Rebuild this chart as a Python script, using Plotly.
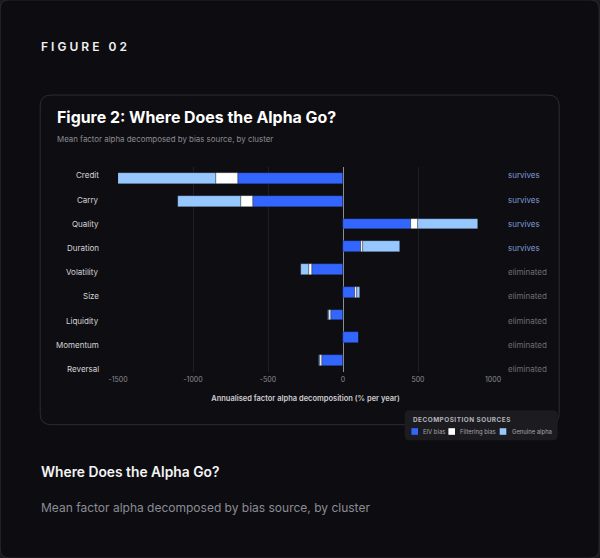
import plotly.graph_objects as go

# ---------------- data ----------------
clusters = ["Credit", "Carry", "Quality", "Duration", "Volatility",
            "Size", "Liquidity", "Momentum", "Reversal"]
eiv_bias = [-700, -600, 450, 120, -210, 78, -80, 105, -140]
filtering_bias = [-150, -82, 50, 13, -20, 15, -14, 0, -11]
genuine_alpha = [-650, -418, 400, 247, -50, 17, -6, 0, -11]
status = ["survives", "survives", "survives", "survives", "eliminated",
          "eliminated", "eliminated", "eliminated", "eliminated"]
x_ticks = [-1500, -1000, -500, 0, 500, 1000]
series_names = ["EIV bias", "Filtering bias", "Genuine alpha"]
series_colors = ["#3366ff", "#ffffff", "#96c8ff"]

# ---------------- layout geometry (pixels) ----------------
W, H = 600, 558
ML, MR, MT, MB = 118.3, 106.7, 167.3, 186.1
PW = W - ML - MR
PH = H - MT - MB
FONT = "Inter, sans-serif"


def px(x):
    return (x - ML) / PW


def py(y):
    return (H - MB - y) / PH


def rrect(x0, y0, x1, y1, r):
    pts = [
        ("M", [(x0 + r, y0)]), ("L", [(x1 - r, y0)]), ("Q", [(x1, y0), (x1, y0 + r)]),
        ("L", [(x1, y1 - r)]), ("Q", [(x1, y1), (x1 - r, y1)]),
        ("L", [(x0 + r, y1)]), ("Q", [(x0, y1), (x0, y1 - r)]),
        ("L", [(x0, y0 + r)]), ("Q", [(x0, y0), (x0 + r, y0)]),
    ]
    s = ""
    for cmd, ps in pts:
        s += cmd + " " + " ".join(f"{px(a):.5f},{py(b):.5f}" for a, b in ps) + " "
    return s + "Z"


fig = go.Figure()
idx = list(range(len(clusters)))
for name, vals, col in zip(series_names, [eiv_bias, filtering_bias, genuine_alpha], series_colors):
    fig.add_trace(go.Bar(
        y=idx, x=vals, orientation="h", name=name, width=0.47,
        marker=dict(color=col, line=dict(color="rgba(14,14,18,0.45)", width=0.6)),
        showlegend=False,
    ))

shapes = [
    dict(type="path", xref="paper", yref="paper", layer="below",
         path=rrect(0.5, 0.5, W - 0.5, H - 0.5, 9),
         fillcolor="#0d0d11", line=dict(color="#2a2a30", width=1)),
    dict(type="path", xref="paper", yref="paper", layer="below",
         path=rrect(40.5, 95.5, 559.5, 424.5, 11),
         fillcolor="#0e0e12", line=dict(color="#2c2c32", width=1)),
    dict(type="path", xref="paper", yref="paper", layer="above",
         path=rrect(405, 410, 558, 440, 5),
         fillcolor="#1c1c20", line=dict(color="#1c1c20", width=0)),
]

annotations = []


def txt(text, x, y, size, color, weight=400, xanchor="left"):
    annotations.append(dict(
        text=text, x=px(x), y=py(y), xref="paper", yref="paper",
        xanchor=xanchor, yanchor="middle", showarrow=False,
        font=dict(family=FONT, size=size, color=color, weight=weight)))


txt("F I G U R E   0 2", 39, 47, 12, "#f2f2f4", 600)
txt("Figure 2: Where Does the Alpha Go?", 55, 118, 15.9, "#ffffff", 700)
txt("Mean factor alpha decomposed by bias source, by cluster", 55, 139.5, 7.9, "#8c8c94")
txt("Where Does the Alpha Go?", 39, 472, 13.8, "#f4f4f6", 600)
txt("Mean factor alpha decomposed by bias source, by cluster", 39, 507, 12, "#8c8c94")

# category + status labels
label_step = 24.15 / 22.73
for i, (c, s) in enumerate(zip(clusters, status)):
    yv = -0.132 + label_step * i
    annotations.append(dict(text=c, x=px(101), y=yv, xref="paper", yref="y",
                            xanchor="right", yanchor="middle", showarrow=False,
                            font=dict(family=FONT, size=8, color="#d4d4d8")))
    annotations.append(dict(text=s, x=px(506.5), y=yv, xref="paper", yref="y",
                            xanchor="left", yanchor="middle", showarrow=False,
                            font=dict(family=FONT, size=8,
                                      color="#7a9ad4" if s == "survives" else "#6c6c74")))

# legend
txt("\u200a".join("DECOMPOSITION SOURCES"), 411.5, 420.3, 6.4, "#b4b4bc", 700)
sw_x = [411.7, 448.7, 500]
tx_x = [421.5, 458.5, 510]
for name, col, sx, tx in zip(series_names, series_colors, sw_x, tx_x):
    shapes.append(dict(type="rect", xref="paper", yref="paper", layer="above",
                       x0=px(sx), x1=px(sx + 6.6), y0=py(428), y1=py(434.6),
                       fillcolor=col, line=dict(width=0)))
    txt(name, tx, 431.5, 5.9, "#a4a4ac")

fig.update_layout(
    width=W, height=H,
    margin=dict(l=ML, r=MR, t=MT, b=MB, pad=0),
    paper_bgcolor="#1b1b1f", plot_bgcolor="rgba(0,0,0,0)",
    barmode="relative", bargap=0,
    font=dict(family=FONT),
    shapes=shapes, annotations=annotations,
    xaxis=dict(range=[-1500, 1000], tickvals=x_ticks,
               ticktext=[str(v) for v in x_ticks],
               showgrid=True, gridcolor="#1e1e24", gridwidth=1,
               zeroline=True, zerolinecolor="#8e8e94", zerolinewidth=1,
               showline=False, ticks="", ticklabelstandoff=2,
               tickfont=dict(family=FONT, size=7, color="#8a8a92"),
               title=dict(text="Annualised factor alpha decomposition (% per year)",
                          font=dict(family=FONT, size=7.5, color="#cfcfd4", weight=600),
                          standoff=12)),
    yaxis=dict(range=[8.5, -0.5], showticklabels=False, showgrid=False,
               zeroline=False, showline=False, ticks=""),
)

fig.write_html("out.html")
